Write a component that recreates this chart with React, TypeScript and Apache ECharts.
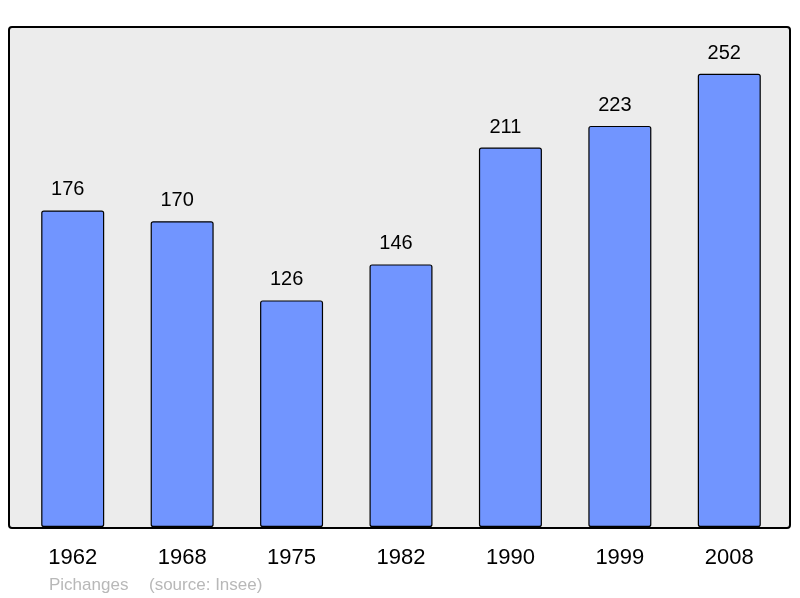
import React, { useEffect, useRef } from "react";
import * as echarts from "echarts";

const years = ["1962", "1968", "1975", "1982", "1990", "1999", "2008"];
const population = [176, 170, 126, 146, 211, 223, 252];
const commune = "Pichanges";
const source = "(source: Insee)";

const FONT = "Liberation Sans, Arial, sans-serif";

export default function App() {
  const ref = useRef<HTMLDivElement>(null);
  useEffect(() => {
    if (!ref.current) return;
    const chart = echarts.init(ref.current, null, { renderer: "svg" });
    chart.setOption({
      animation: false,
      textStyle: { fontFamily: FONT },
      graphic: [
        {
          type: "rect",
          z: 0,
          shape: { x: 9, y: 27, width: 781, height: 501, r: 3 },
          style: { fill: "#ececec", stroke: "#000", lineWidth: 2 },
        },
        {
          type: "text",
          x: 49,
          y: 584,
          style: { text: commune, fill: "#b8b8b8", font: "17px " + FONT, textVerticalAlign: "middle" },
        },
        {
          type: "text",
          x: 149,
          y: 584,
          style: { text: source, fill: "#b8b8b8", font: "17px " + FONT, textVerticalAlign: "middle" },
        },
      ],
      grid: { left: 18, right: 16, top: 27, bottom: 71, containLabel: false },
      xAxis: {
        type: "category",
        data: years,
        axisLine: { show: false },
        axisTick: { show: false },
        axisLabel: { color: "#000", fontSize: 22, margin: 18, fontFamily: FONT },
      },
      yAxis: {
        type: "value",
        min: 0,
        max: 278,
        show: false,
        splitLine: { show: false },
      },
      series: [
        {
          type: "bar",
          data: population,
          barWidth: 63,
          z: 5,
          itemStyle: { color: "#7195ff", borderColor: "#000", borderWidth: 1.2, borderRadius: 2 },
          label: {
            show: true,
            position: "top",
            distance: 12,
            offset: [-5, 0],
            color: "#000",
            fontSize: 20,
            fontFamily: FONT,
          },
        },
      ],
    });
    return () => chart.dispose();
  }, []);
  return (
    <div style={{ position: "fixed", left: 0, top: 0 }}>
      <div ref={ref} style={{ width: 800, height: 598 }} />
    </div>
  );
}
